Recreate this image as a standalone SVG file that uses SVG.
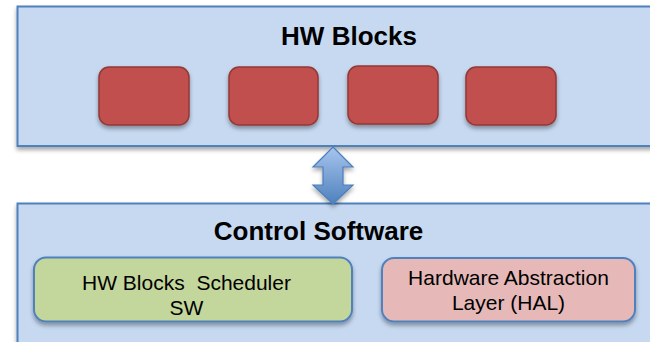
<svg xmlns="http://www.w3.org/2000/svg" width="650" height="342" viewBox="0 0 650 342">
<style>
.panel{fill:#C6D9F1;stroke:#4F81BD;stroke-width:2}
.blk{fill:#C0504D;stroke:#943734;stroke-width:1.5}
.title{font-family:"Liberation Sans",Arial,sans-serif;font-weight:bold;font-size:26px;fill:#000;text-anchor:middle}
.lbl{font-family:"Liberation Sans",Arial,sans-serif;font-size:21px;fill:#000;text-anchor:middle;white-space:pre}
</style>
<defs>
<filter id="sh" x="-10%" y="-10%" width="120%" height="140%">
<feDropShadow dx="0" dy="3" stdDeviation="2" flood-color="#000" flood-opacity="0.35"/>
</filter>
<linearGradient id="ag" x1="0" y1="0" x2="0" y2="1">
<stop offset="0" stop-color="#A7C5EE"/>
<stop offset="1" stop-color="#4F81BD"/>
</linearGradient>
</defs>
<g id="hw-panel">
<rect class="panel" x="17.5" y="6.5" width="650" height="139.5" filter="url(#sh)"/>
<text class="title" x="349" y="45">HW Blocks</text>
</g>
<g id="hw-block-1"><rect class="blk" x="99" y="67" width="90" height="58" rx="10" filter="url(#sh)"/></g>
<g id="hw-block-2"><rect class="blk" x="229" y="67" width="89" height="58" rx="10" filter="url(#sh)"/></g>
<g id="hw-block-3"><rect class="blk" x="348" y="66" width="90" height="58" rx="10" filter="url(#sh)"/></g>
<g id="hw-block-4"><rect class="blk" x="466" y="67" width="90" height="58" rx="10" filter="url(#sh)"/></g>
<g id="control-panel">
<rect class="panel" x="17.5" y="203.5" width="650" height="150" filter="url(#sh)"/>
<text class="title" x="318.5" y="240">Control Software</text>
</g>
<g id="scheduler">
<rect x="34" y="257.5" width="318" height="64" rx="12" fill="#C3D69B" stroke="#4F81BD" stroke-width="2" filter="url(#sh)"/>
<text class="lbl" x="186.5" y="290" xml:space="preserve">HW Blocks  Scheduler</text>
<text class="lbl" x="186.5" y="315">SW</text>
</g>
<g id="hal">
<rect x="382" y="258" width="253" height="63.5" rx="12" fill="#E6B9B8" stroke="#4F81BD" stroke-width="2" filter="url(#sh)"/>
<text class="lbl" x="508.5" y="285">Hardware Abstraction</text>
<text class="lbl" x="508.5" y="310">Layer (HAL)</text>
</g>
<g id="connectors">
<polygon points="333,147 353,167 343,167 343,185 353,185 333,204 313,185 323,185 323,167 313,167" fill="url(#ag)" stroke="#4A7EBB" stroke-width="1.2" stroke-linejoin="miter" filter="url(#sh)"/>
</g>
</svg>
